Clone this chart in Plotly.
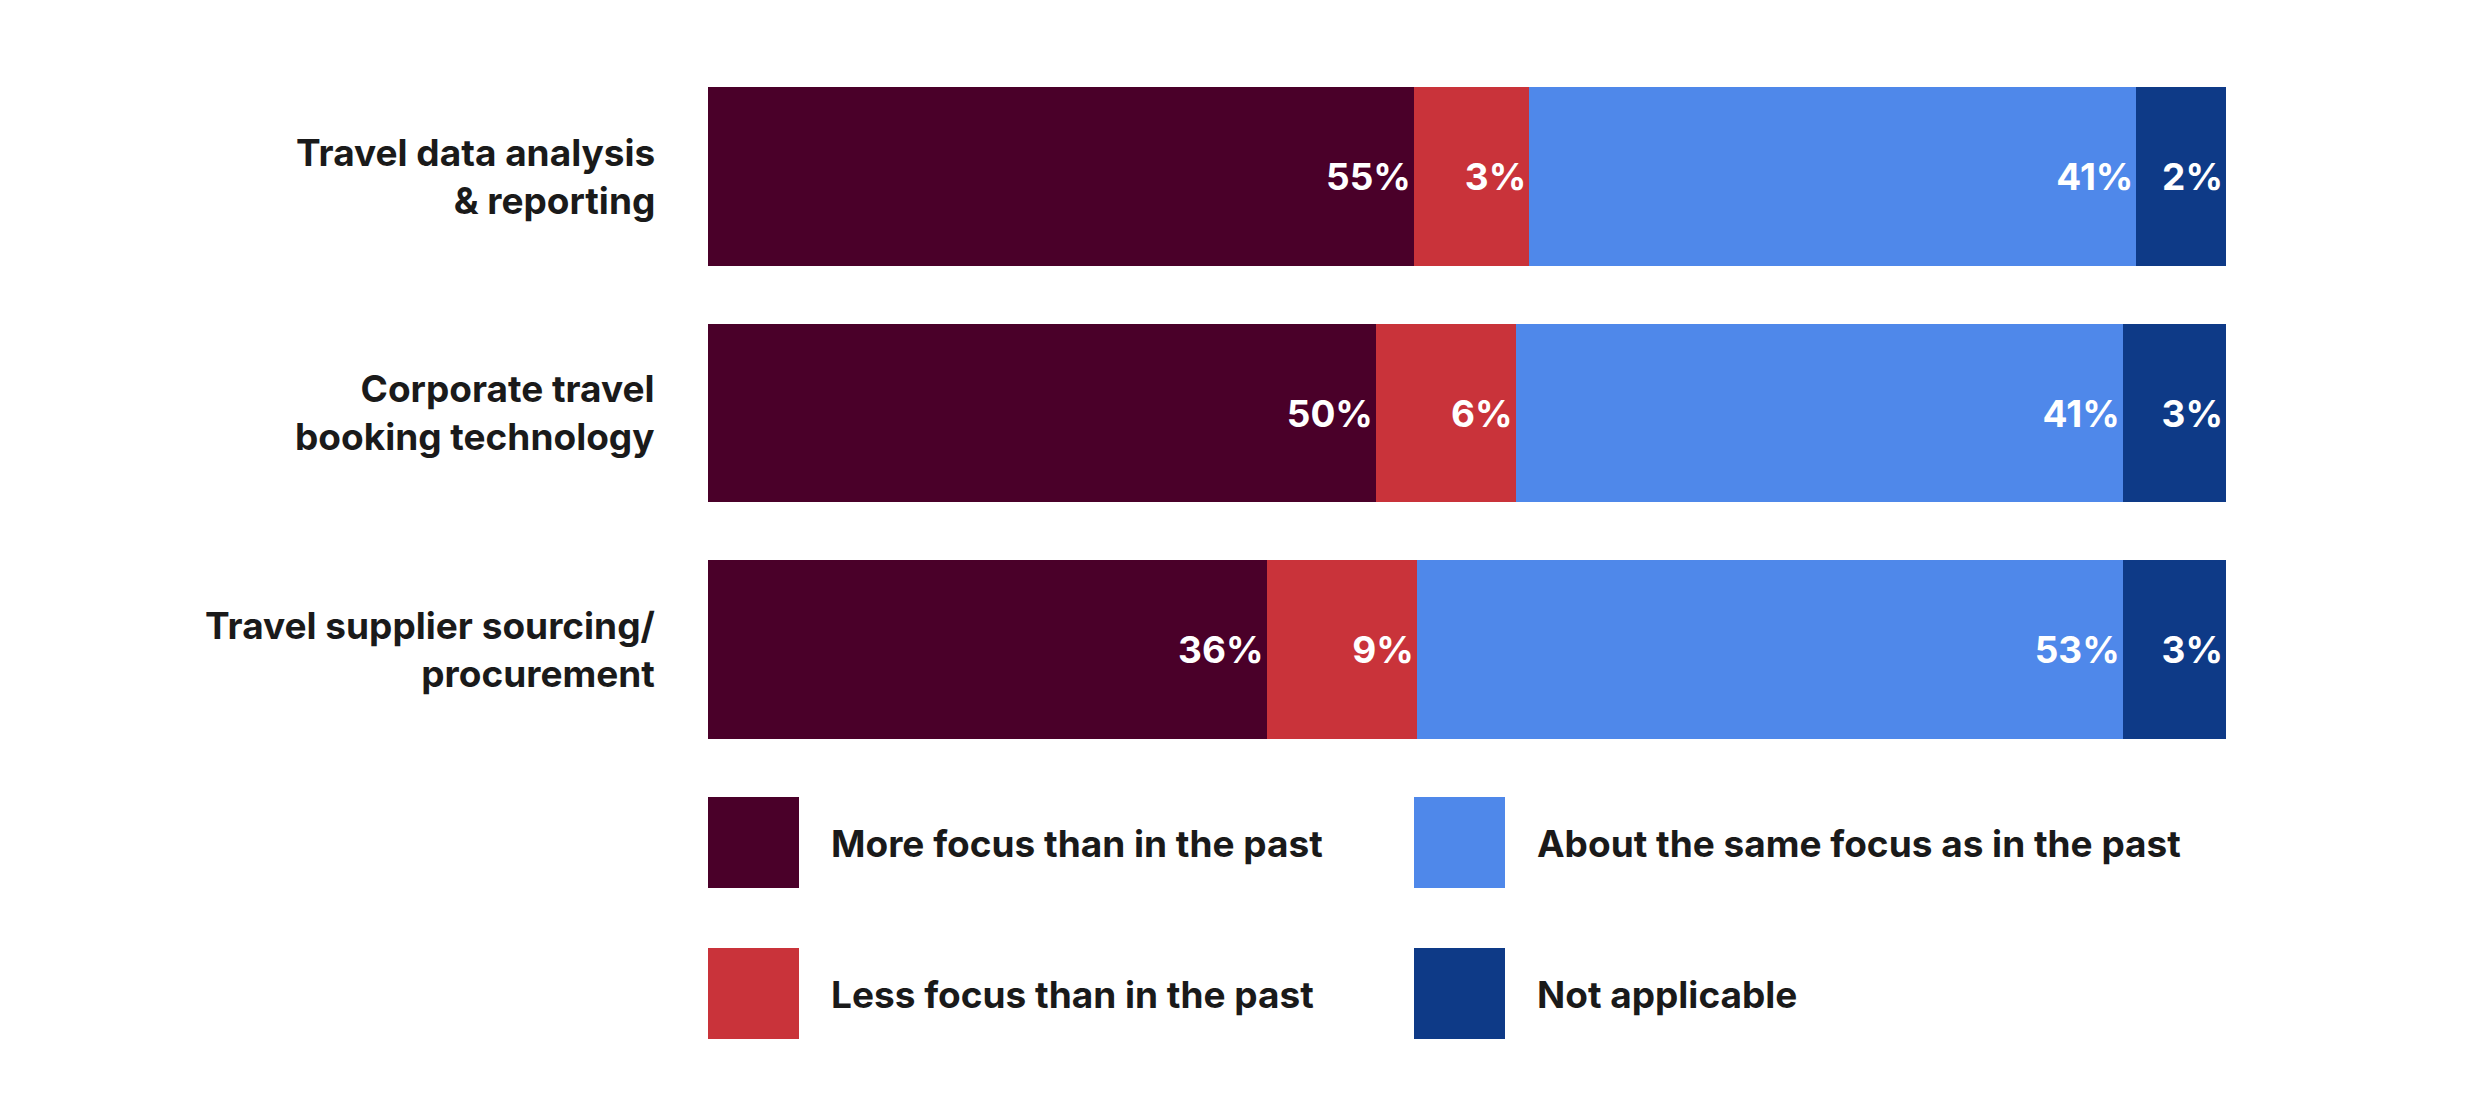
import plotly.graph_objects as go

W, H = 2480, 1112

categories = ["Travel data analysis<br>& reporting",
              "Corporate travel<br>booking technology",
              "Travel supplier sourcing/<br>procurement"]
series = ["More focus than in the past", "Less focus than in the past",
          "About the same focus as in the past", "Not applicable"]
colors = ["#4a0029", "#c9333a", "#4f88ea", "#0e3a87"]

# printed labels
labels = [
    ["55%", "50%", "36%"],
    ["3%", "6%", "9%"],
    ["41%", "41%", "53%"],
    ["2%", "3%", "3%"],
]
# segment shares as drawn in the picture
shares = [
    [46.5, 44.0, 36.8],
    [7.6, 9.2, 9.9],
    [40.0, 40.0, 46.5],
    [5.9, 6.8, 6.8],
]

font = "Inter"
fig = go.Figure()
for name, col, vals, txt in zip(series, colors, shares, labels):
    fig.add_trace(go.Bar(
        y=categories, x=vals, name=name, orientation="h",
        marker=dict(color=col, line=dict(width=0)),
        text=txt, textposition="inside", insidetextanchor="end",
        textfont=dict(family=font, size=37, color="white", weight="bold"),
        showlegend=False))

fig.update_layout(
    width=W, height=H, barmode="stack", bargap=0.246,
    paper_bgcolor="white", plot_bgcolor="white",
    margin=dict(l=0, r=0, t=0, b=0),
    xaxis=dict(domain=[700 / W, 2218 / W], range=[0, 100], visible=False),
    yaxis=dict(domain=[1 - 760 / H, 1 - 50 / H], autorange="reversed",
               showticklabels=False, showgrid=False, zeroline=False),
    uniformtext=dict(mode=False),
)

for i, c in enumerate(categories):
    fig.add_annotation(x=649 / W, xref="paper", y=c, yref="y", text=c,
                       xanchor="right", showarrow=False, align="right",
                       font=dict(family=font, size=37, color="#1a1a1a", weight="bold"))

# legend built by hand, two columns
leg_pos = [(700, 789), (700, 940), (1406, 789), (1406, 940)]
for name, col, (lx, ly) in zip(series, colors, leg_pos):
    fig.add_shape(type="rect", xref="paper", yref="paper",
                  x0=lx / W, x1=(lx + 91) / W, y0=1 - (ly + 91) / H, y1=1 - ly / H,
                  fillcolor=col, line=dict(width=0))
    fig.add_annotation(x=(lx + 121) / W, y=1 - (ly + 46) / H, xref="paper", yref="paper",
                       text=name, xanchor="left", yanchor="middle", showarrow=False,
                       font=dict(family=font, size=37, color="#1a1a1a", weight="bold"))

fig.write_html("out.html")
